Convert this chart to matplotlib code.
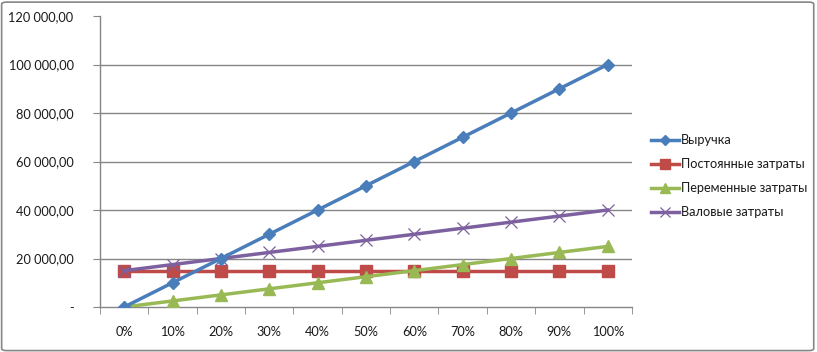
import matplotlib
matplotlib.use("Agg")
import matplotlib.pyplot as plt
from matplotlib.patches import FancyBboxPatch
from matplotlib.ticker import FuncFormatter, FixedLocator

plt.rcParams['font.family'] = ['Lato', 'DejaVu Sans']

categories = ["0%", "10%", "20%", "30%", "40%", "50%", "60%", "70%", "80%", "90%", "100%"]
revenue = [0, 10000, 20000, 30000, 40000, 50000, 60000, 70000, 80000, 90000, 100000]
fixed_costs = [15000, 15000, 15000, 15000, 15000, 15000, 15000, 15000, 15000, 15000, 15000]
variable_costs = [0, 2500, 5000, 7500, 10000, 12500, 15000, 17500, 20000, 22500, 25000]
gross_costs = [15000, 17500, 20000, 22500, 25000, 27500, 30000, 32500, 35000, 37500, 40000]
series_names = ["Выручка", "Постоянные затраты", "Переменные затраты", "Валовые затраты"]
y_ticks = [0, 20000, 40000, 60000, 80000, 100000, 120000]

fig = plt.figure(figsize=(8.17, 3.52), dpi=100)
fig.patches.append(FancyBboxPatch((0.002, 0.004), 0.994, 0.99, boxstyle="round,pad=0,rounding_size=0.006",
                                  transform=fig.transFigure, facecolor='white', edgecolor='#868686',
                                  linewidth=1.2, zorder=-10))
ax = fig.add_axes([0.1224, 0.1278, 0.651, 0.8267])
ax.set_facecolor('none')

x = list(range(len(categories)))
ax.plot(x, revenue, color='#4A7EBB', lw=2.5, marker='D', ms=6.5, label=series_names[0], zorder=5)
ax.plot(x, fixed_costs, color='#BE4B48', lw=2.5, marker='s', ms=8, label=series_names[1], zorder=4)
ax.plot(x, variable_costs, color='#98B954', lw=2.5, marker='^', ms=8, label=series_names[2], zorder=4)
ax.plot(x, gross_costs, color='#7D60A0', lw=2.5, marker='x', ms=8.5, mew=0.9, label=series_names[3], zorder=4)

ax.set_xlim(-0.5, 10.5)
ax.set_ylim(0, 120000)
ax.set_yticks(y_ticks)
def fmt(v, pos):
    if v == 0:
        return "-"
    s = f"{int(v):,}".replace(",", "\u00a0")
    return s + ",00"
ax.yaxis.set_major_formatter(FuncFormatter(fmt))
ax.set_xticks(x)
ax.set_xticklabels(categories)
ax.xaxis.set_minor_locator(FixedLocator([i - 0.5 for i in range(len(categories) + 1)]))
ax.tick_params(axis='x', which='major', length=0, pad=14, labelsize=9.2, labelcolor='#1a1a1a')
ax.tick_params(axis='x', which='minor', length=5, color='#868686', direction='out')
ax.tick_params(axis='y', which='major', length=5, color='#868686', direction='out', pad=14,
               labelsize=9.2, labelcolor='#1a1a1a')

for yv in y_ticks[1:-1]:
    ax.axhline(yv, color='#868686', lw=1, zorder=1)
for side in ['top', 'right']:
    ax.spines[side].set_visible(False)
for side in ['left', 'bottom']:
    ax.spines[side].set_color('#868686')
    ax.spines[side].set_linewidth(1)

leg = fig.legend(loc='upper left', bbox_to_anchor=(0.797, 0.618), frameon=False, fontsize=9.2,
                 handlelength=2.2, handletextpad=0.1, labelspacing=0.93, borderpad=0,
                 borderaxespad=0, labelcolor='#1a1a1a', markerscale=0.85)

fig.savefig("out.png", dpi=100)
